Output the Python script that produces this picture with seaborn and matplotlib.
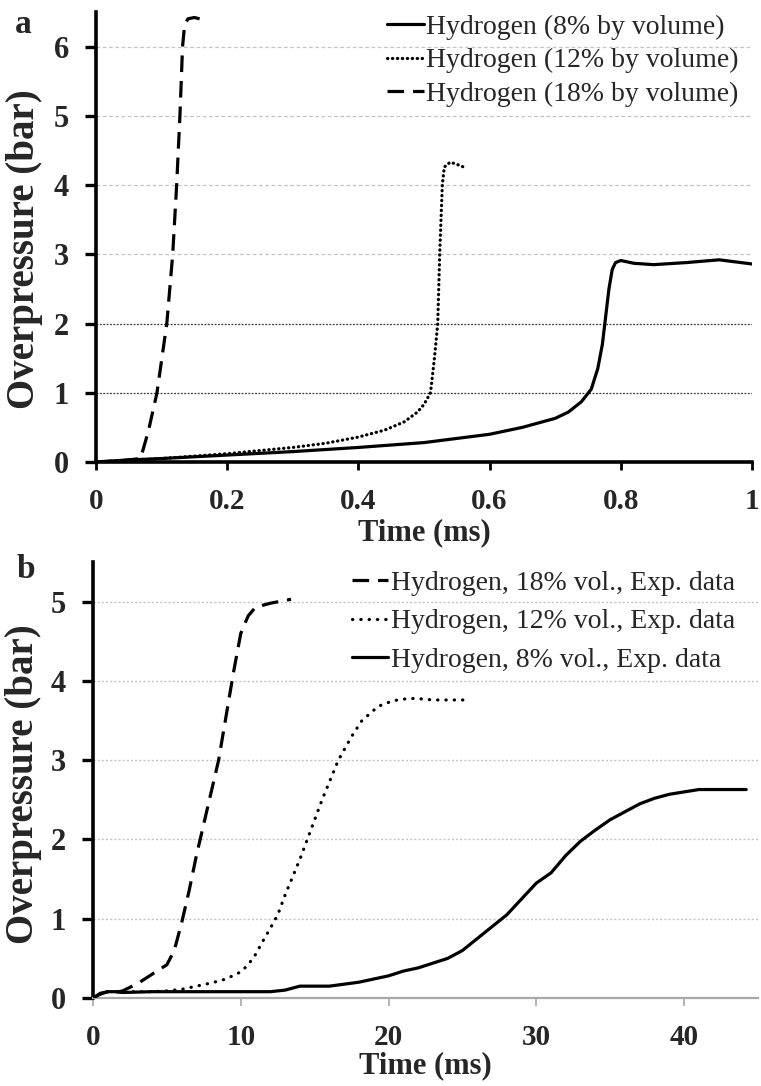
import matplotlib
matplotlib.use("Agg")
import matplotlib.pyplot as plt
import pandas as pd
import seaborn as sns

# ---------------- data ----------------
# (a) simulated overpressure histories, time in ms
time_a_8 = [0, 0.05, 0.1, 0.2, 0.3, 0.4, 0.5, 0.6, 0.65, 0.7, 0.72, 0.74, 0.755,
            0.765, 0.772, 0.777, 0.782, 0.787, 0.792, 0.8, 0.82, 0.85, 0.9, 0.95, 1.0]
pres_a_8 = [0, 0.03, 0.05, 0.1, 0.15, 0.21, 0.28, 0.4, 0.5, 0.63, 0.72, 0.87, 1.05,
            1.35, 1.7, 2.1, 2.5, 2.78, 2.88, 2.91, 2.87, 2.85, 2.88, 2.92, 2.86]

time_a_12 = [0, 0.05, 0.1, 0.2, 0.3, 0.35, 0.4, 0.44, 0.47, 0.49, 0.5, 0.51, 0.516,
             0.521, 0.524, 0.528, 0.531, 0.54, 0.55, 0.563]
pres_a_12 = [0, 0.02, 0.05, 0.12, 0.21, 0.27, 0.36, 0.46, 0.58, 0.72, 0.83, 1.0, 1.5,
             2.0, 3.0, 4.0, 4.26, 4.33, 4.3, 4.25]

time_a_18 = [0, 0.04, 0.068, 0.08, 0.093, 0.108, 0.117, 0.123, 0.128, 0.132, 0.135,
             0.14, 0.15, 0.158]
pres_a_18 = [0, 0.02, 0.05, 0.45, 1.0, 2.0, 3.0, 4.0, 5.0, 6.0, 6.3, 6.4, 6.42, 6.4]

# (b) experimental overpressure histories, time in ms
time_b_18 = [0, 0.5, 1, 1.5, 2, 3, 4, 5, 5.5, 6, 6.5, 7, 7.5, 8, 8.5, 9, 9.5, 10,
             10.5, 11, 12, 13.4]
pres_b_18 = [0, 0.05, 0.08, 0.07, 0.09, 0.18, 0.3, 0.42, 0.6, 0.95, 1.35, 1.8, 2.2,
             2.6, 3.0, 3.55, 4.1, 4.6, 4.82, 4.93, 4.98, 5.03]

time_b_12 = [0, 0.5, 1, 2, 3, 4, 5, 6, 7, 8, 9, 10, 10.5, 11, 11.5, 12, 12.5, 13, 14,
             14.5, 15.5, 16.6, 17.5, 18.2, 19.3, 20.3, 21, 21.8, 23, 25.1]
pres_b_12 = [0, 0.05, 0.08, 0.08, 0.08, 0.08, 0.09, 0.11, 0.15, 0.19, 0.24, 0.33,
             0.42, 0.55, 0.72, 0.88, 1.05, 1.3, 1.75, 2.0, 2.5, 3.0, 3.3, 3.5, 3.68,
             3.75, 3.77, 3.78, 3.76, 3.76]

time_b_8 = [0, 0.5, 1, 1.5, 2, 4, 8, 12, 13, 14, 16, 18, 19, 20, 21, 22, 23, 24, 25,
            26, 27, 28, 29, 30, 31, 32, 33, 34, 35, 36, 37, 38, 39, 40, 41, 42, 44.2]
pres_b_8 = [0, 0.06, 0.08, 0.08, 0.07, 0.08, 0.08, 0.08, 0.1, 0.15, 0.15, 0.2, 0.24,
            0.28, 0.34, 0.38, 0.44, 0.5, 0.6, 0.75, 0.9, 1.05, 1.25, 1.45, 1.58, 1.8,
            1.98, 2.12, 2.25, 2.35, 2.45, 2.52, 2.57, 2.6, 2.63, 2.63, 2.63]

labels_a = ["Hydrogen (8% by volume)", "Hydrogen (12% by volume)",
            "Hydrogen (18% by volume)"]
labels_b = ["Hydrogen, 18% vol., Exp. data", "Hydrogen, 12% vol., Exp. data",
            "Hydrogen, 8% vol., Exp. data"]

xticks_a = [0, 0.2, 0.4, 0.6, 0.8, 1.0]
xticklabels_a = ["0", "0.2", "0.4", "0.6", "0.8", "1"]
yticks_a = [0, 1, 2, 3, 4, 5, 6]
xticks_b = [0, 10, 20, 30, 40]
xticklabels_b = ["0", "10", "20", "30", "40"]
yticks_b = [0, 1, 2, 3, 4, 5]

# ---------------- style ----------------
sns.set_theme(style="white")
plt.rcParams["font.family"] = ["Liberation Serif", "DejaVu Serif"]

LW = 2.3
solid = dict(linestyle="-", linewidth=LW)
dashed = dict(linestyle=(0, (5.2, 2.8)), linewidth=LW, dash_capstyle="butt")
dotted_a = dict(linestyle=(0, (0.1, 1.45)), linewidth=LW, dash_capstyle="round")
dotted_b = dict(linestyle=(0, (0.1, 2.5)), linewidth=LW, dash_capstyle="round")

fig = plt.figure(figsize=(7.61, 10.86), dpi=100)
ax_a = fig.add_axes([0.1261, 0.5746, 0.8620, 0.4144])
ax_b = fig.add_axes([0.1222, 0.0810, 0.8739, 0.4015])


def draw(ax, t, p, label, style):
    df = pd.DataFrame({"Time (ms)": t, "Overpressure (bar)": p})
    sns.lineplot(data=df, x="Time (ms)", y="Overpressure (bar)", ax=ax,
                 color="black", label=label, estimator=None, sort=False,
                 zorder=3, **style)


# ---- panel (a) ----
for y in yticks_a[1:]:
    dark = y <= 2
    ax_a.axhline(y, color="#3a3a3a" if dark else "#c4c4c4",
                 linestyle=(0, (1.5, 1.2)) if dark else (0, (3, 2)),
                 linewidth=0.9, zorder=1)
draw(ax_a, time_a_8, pres_a_8, labels_a[0], solid)
draw(ax_a, time_a_12, pres_a_12, labels_a[1], dotted_a)
draw(ax_a, time_a_18, pres_a_18, labels_a[2], dashed)
ax_a.set_xlim(0, 1.0)
ax_a.set_ylim(0, 6.5)

# ---- panel (b) ----
for y in yticks_b[1:]:
    ax_b.axhline(y, color="#c4c4c4", linestyle=(0, (1.5, 1.5)),
                 linewidth=1.0, zorder=1)
draw(ax_b, time_b_18, pres_b_18, labels_b[0], dashed)
draw(ax_b, time_b_12, pres_b_12, labels_b[1], dotted_b)
draw(ax_b, time_b_8, pres_b_8, labels_b[2], solid)
ax_b.set_xlim(0, 45)
ax_b.set_ylim(0, 5.5)

for ax, xt, xtl, yt, xcol, xpad in [
        (ax_a, xticks_a, xticklabels_a, yticks_a, "black", 13),
        (ax_b, xticks_b, xticklabels_b, yticks_b, "#a8a8a8", 13)]:
    sns.despine(ax=ax)
    ax.spines["left"].set_linewidth(2.6)
    ax.spines["left"].set_color("black")
    ax.spines["bottom"].set_color(xcol)
    ax.spines["bottom"].set_linewidth(2.6 if xcol == "black" else 1.6)
    ax.set_xticks(xt, labels=xtl, fontsize=21, fontweight="bold")
    ax.set_yticks(yt, labels=[str(v) for v in yt], fontsize=22, fontweight="bold")
    ax.tick_params(axis="y", direction="out", length=8, width=2.4,
                   color="black", pad=11.5, left=True)
    ax.tick_params(axis="x", direction="out", length=6,
                   width=2.0 if xcol == "black" else 1.2,
                   color=xcol, pad=xpad, bottom=True)
    ax.set_xlabel("Time (ms)", fontsize=22, fontweight="bold")
    ax.set_ylabel("Overpressure (bar)", fontsize=28, fontweight="bold")
    ax.grid(False)

ax_a.xaxis.set_label_coords(0.5, -0.125)
ax_b.xaxis.set_label_coords(0.5, -0.121)
ax_a.yaxis.set_label_coords(-0.08, 0.473)
ax_b.yaxis.set_label_coords(-0.077, 0.49)

leg_kw = dict(frameon=False, fontsize=20, handlelength=1.3, handletextpad=0.1,
              borderaxespad=0, borderpad=0, loc="upper right")
ax_a.legend(bbox_to_anchor=(0.98, 0.995), labelspacing=0.3, **leg_kw)
ax_b.legend(bbox_to_anchor=(0.965, 0.98), labelspacing=0.46, **leg_kw)

fig.text(15 / 761, 1 - 33 / 1086, "a", fontsize=24, fontweight="bold",
         va="baseline", ha="left")
fig.text(17 / 761, 1 - 578 / 1086, "b", fontsize=24, fontweight="bold",
         va="baseline", ha="left")

fig.savefig("out.png", dpi=100, facecolor="white")
